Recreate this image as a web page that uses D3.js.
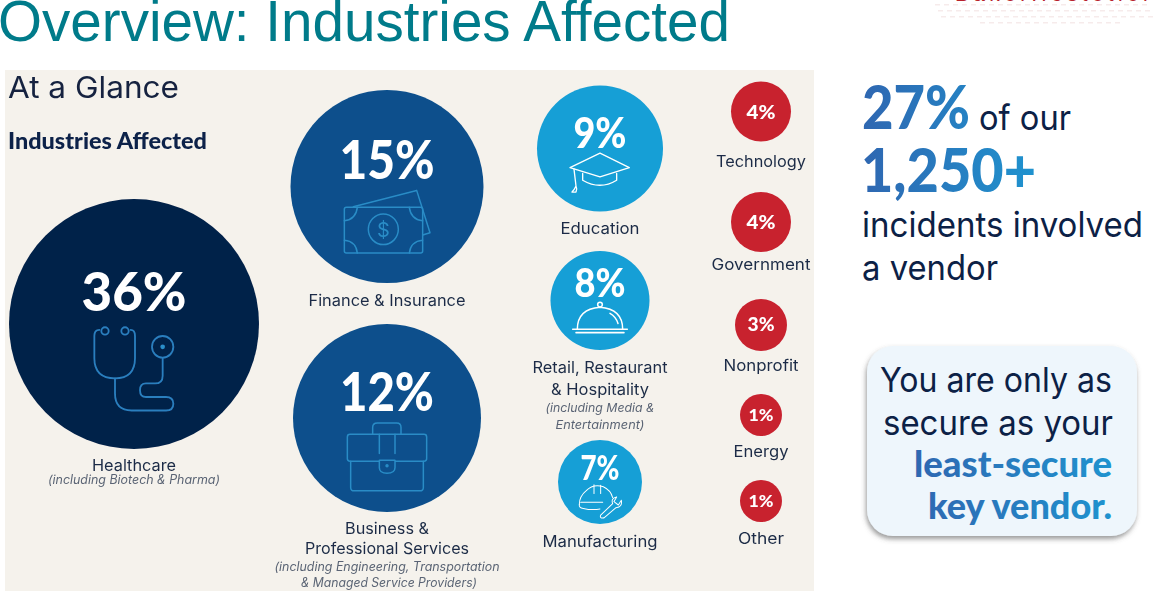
<!DOCTYPE html>
<html><head><meta charset="utf-8">
<script src="https://cdn.jsdelivr.net/npm/d3@7"></script>
<style>html,body{margin:0;padding:0;background:#fff;overflow:hidden}svg{display:block}text{font-family:Inter,"Open Sans",sans-serif}text.heavy{font-family:Lato,Inter,sans-serif;font-weight:900}</style>
</head><body><svg id="c" width="1168" height="591"></svg>
<script>
// data
const categories=["Healthcare","Finance & Insurance","Business & Professional Services","Education","Retail, Restaurant & Hospitality","Manufacturing","Technology","Government","Nonprofit","Energy","Other"];
const shares=[36,15,12,9,8,7,4,4,3,1,1];
const groups=["dark","mid","mid","light","light","light","red","red","red","red","red"];
// layout
const centerX=[134,387,387,600,600,600,761,761,761,761,761];
const centerY=[324,186.5,418,148.5,300.5,482,111.5,222,325,415,501];
const pctY=[292,160,392,133,283,468,112,222,325,415,501];
const pctSize=[54,54,54,42,40,34,19,19,18,17,17];
const pctWidth=[105,95,94,53,51,39,29,29,27,25,25];
const rDomain=[1,3,4,7,8,9,12,15,36], rRange=[21,26,30,42,49.5,63,94,96.5,125];
const palette={dark:"#032048",mid:"#0b4f8c",light:"#159fd6",red:"#c8202f"};
const labels=[
 ["Healthcare",134,471,15.5,84,0],["(including Biotech & Pharma)",134,484,12.5,172,1],
 ["Finance & Insurance",387,306,15.5,157,0],
 ["Business &",387,534,15.5,84,0],["Professional Services",387,554,15.5,164,0],
 ["(including Engineering, Transportation",387,571,12.5,225,1],["& Managed Service Providers)",389,587,12.5,176,1],
 ["Education",600,234,15.5,79,0],
 ["Retail, Restaurant",600,373,15.5,135,0],["& Hospitality",600,395,15.5,98,0],
 ["(including Media &",600,412,12,109,1],["Entertainment)",600,429,12,89,1],
 ["Manufacturing",600,547,15.5,115,0],
 ["Technology",761,167,15.5,90,0],["Government",761,270,15.5,99,0],["Nonprofit",761,371,15.5,75,0],
 ["Energy",761,457,15.5,55,0],["Other",761,544,15.5,46,0]];
const bigFigures=[["27%",862,129,108],["1,250+",861,192,175]];
const sideText=[["of our",979,130,92],["incidents involved",862,237,281],["a vendor",862,280,136]];
const calloutPlain=[["You are only as",880,392,232],["secure as your",883,435,230]];
const calloutBold=[["least-secure",914,477,198],["key vendor.",928,519,184]];

const svg=d3.select("#c");
const r=d3.scaleLinear().domain(rDomain).range(rRange);
const defs=svg.append("defs");
function grad(id,x1,x2){const g=defs.append("linearGradient").attr("id",id).attr("gradientUnits","userSpaceOnUse").attr("x1",x1).attr("x2",x2).attr("y1",0).attr("y2",0);
 g.append("stop").attr("offset",0).attr("stop-color","#2f67b1");g.append("stop").attr("offset",1).attr("stop-color","#1f93cf");}
grad("g1",862,1036);grad("g2",914,1112);
defs.append("filter").attr("id","sh").attr("x","-10%").attr("y","-10%").attr("width","120%").attr("height","125%")
 .html('<feDropShadow dx="-1" dy="3" stdDeviation="2.5" flood-color="#555" flood-opacity=".6"/>');
defs.append("filter").attr("id","soft").html('<feGaussianBlur stdDeviation="0.35"/>');

// slide header
svg.append("text").attr("x",-2).attr("y",41).attr("font-size",56.6).attr("fill","#007b8a").style("font-family","Liberation Sans").text("Overview: Industries Affected");
const brand=svg.append("g").attr("opacity",.22).attr("fill","#d8a8a8");
d3.range(935,1150,9).forEach((x,i)=>d3.range(4,30,6).forEach((y,j)=>{ if(y<28-Math.abs(x-1040)/12) brand.append("rect").attr("x",x+j*3).attr("y",y).attr("width",5).attr("height",1.5);}));
svg.append("text").attr("x",955).attr("y",1).attr("font-size",21).attr("fill","#b8222c").style("font-family","Liberation Sans").attr("textLength",195).text("BakerHostetler");

// panel
const panel=svg.append("g").attr("filter","url(#soft)");
panel.append("rect").attr("x",5).attr("y",70).attr("width",809).attr("height",521).attr("fill","#f5f2ec");
panel.append("text").attr("x",8).attr("y",98).attr("font-size",30).attr("fill","#14233f").attr("textLength",171).attr("lengthAdjust","spacingAndGlyphs").text("At a Glance");
panel.append("text").attr("class","heavy").attr("x",8).attr("y",149).attr("font-size",22).attr("fill","#0a2048").attr("textLength",199).attr("lengthAdjust","spacingAndGlyphs").text("Industries Affected");

panel.selectAll("circle.b").data(categories).join("circle").attr("class","b")
 .attr("cx",(d,i)=>centerX[i]).attr("cy",(d,i)=>centerY[i]).attr("r",(d,i)=>r(shares[i])).attr("fill",(d,i)=>palette[groups[i]]);
panel.selectAll("text.p").data(shares).join("text").attr("class","p heavy").attr("text-anchor","middle")
 .attr("x",(d,i)=>centerX[i]).attr("y",(d,i)=>pctY[i]+pctSize[i]*.36).attr("font-size",(d,i)=>pctSize[i]).attr("fill","#fff")
 .attr("textLength",(d,i)=>pctWidth[i]).attr("lengthAdjust","spacingAndGlyphs").text(d=>d+"%");
panel.selectAll("text.l").data(labels).join("text").attr("class","l").attr("text-anchor","middle")
 .attr("x",d=>d[1]).attr("y",d=>d[2]).attr("font-size",d=>d[3]).attr("fill",d=>d[5]?"#5a6474":"#1c2c46").attr("font-style",d=>d[5]?"italic":"normal")
 .attr("textLength",d=>d[4]).attr("lengthAdjust","spacingAndGlyphs").text(d=>d[0]);

// icons (drawn in zoomed crop space)
function icon(ox,oy,stroke,w){return panel.append("g").attr("transform",`translate(${ox},${oy}) scale(${1/3},${1.016/3})`).attr("fill","none").attr("stroke",stroke).attr("stroke-width",w).attr("stroke-linecap","round").attr("stroke-linejoin","round");}
const a=icon(0,60,"#2a7fbe",5.5);
a.append("path").attr("d","M298 797 Q283 797 283 815 V880 Q283 940 345 940 Q405 940 405 880 V815 Q405 797 392 797");
a.append("circle").attr("cx",315).attr("cy",800).attr("r",11);
a.append("circle").attr("cx",375).attr("cy",800).attr("r",11);
a.append("path").attr("d","M345 940 V985 Q345 1035 395 1035 H498 Q520 1035 520 1015 Q520 995 498 995 H438 Q420 995 420 975 Q420 955 438 955 H465 Q488 955 488 932 V880");
a.append("circle").attr("cx",488).attr("cy",847).attr("r",32);
a.append("circle").attr("cx",488).attr("cy",847).attr("r",7).attr("fill","#2a8fc9").attr("stroke","none");
const m=icon(0,60,"#2a8cc6",4.5);
m.append("rect").attr("x",1033).attr("y",435).attr("width",235).attr("height",135).attr("rx",6);
m.append("path").attr("d","M1060 433 L1250 385 L1290 510 L1268 517");
m.append("path").attr("d","M1033 475 Q1068 470 1072 435 M1228 435 Q1232 470 1268 475 M1033 532 Q1068 535 1072 570 M1228 570 Q1232 535 1268 532");
m.append("circle").attr("cx",1150).attr("cy",500).attr("r",45);
m.append("text").attr("x",1150).attr("y",522).attr("text-anchor","middle").attr("font-size",60).attr("fill","#2a8cc6").attr("stroke","none").text("$");
const b=icon(0,60,"#2a8cc6",4.5);
b.append("path").attr("d","M1118 1105 V1085 Q1118 1072 1132 1072 H1190 Q1203 1072 1203 1085 V1105");
b.append("rect").attr("x",1042).attr("y",1105).attr("width",238).attr("height",80).attr("rx",8);
b.append("path").attr("d","M1052 1185 V1262 Q1052 1272 1062 1272 H1260 Q1270 1272 1270 1262 V1185");
b.append("path").attr("d","M1138 1105 V1162 M1185 1105 V1162");
b.append("path").attr("d","M1138 1182 H1185 V1203 Q1185 1220 1161 1220 Q1138 1220 1138 1203 Z").attr("fill","#0b4f8c");
b.append("circle").attr("cx",1161).attr("cy",1198).attr("r",3).attr("fill","#2a8cc6");
const e=icon(500,60,"#fff",4);
e.append("path").attr("d","M210 318 L300 275 L388 318 L300 345 Z");
e.append("path").attr("d","M248 335 V355 Q300 385 350 355 V335");
e.append("path").attr("d","M222 322 L228 372 M228 372 Q222 385 216 390 L228 390 Q232 380 228 372");
const c=icon(500,60,"#fff",4.5);
c.append("path").attr("d","M232 795 Q232 735 300 730 Q368 735 368 795");
c.append("circle").attr("cx",300).attr("cy",722).attr("r",7);
c.append("path").attr("d","M218 795 H382 M228 805 H372");
c.append("path").attr("d","M330 748 Q348 758 354 778");
const h=icon(500,60,"#fff",3);
h.append("path").attr("d","M238 1312 Q238 1288 258 1272 Q280 1250 310 1260 Q332 1270 338 1292");
h.append("path").attr("d","M282 1254 V1280 M302 1256 V1280 M242 1306 H308 M238 1312 Q236 1322 250 1324 Q275 1330 300 1326");
h.append("path").attr("d","M302 1344 L338 1310 Q332 1294 350 1290 L342 1304 L355 1314 L364 1300 Q368 1320 348 1322 L312 1352 Q298 1354 302 1344 Z");

// right side
const side=svg.append("g");
side.selectAll("text.big").data(bigFigures).join("text").attr("class","big heavy").attr("x",d=>d[1]).attr("y",d=>d[2]).attr("font-size",60).attr("fill","url(#g1)")
 .attr("textLength",d=>d[3]).attr("lengthAdjust","spacingAndGlyphs").text(d=>d[0]);
side.selectAll("text.s").data(sideText).join("text").attr("class","s").attr("x",d=>d[1]).attr("y",d=>d[2]).attr("font-size",35).attr("fill","#0c2146")
 .attr("textLength",d=>d[3]).attr("lengthAdjust","spacingAndGlyphs").text(d=>d[0]);
side.append("rect").attr("x",867).attr("y",346).attr("width",270).attr("height",190).attr("rx",26).attr("fill","#eef6fc").attr("filter","url(#sh)");
side.selectAll("text.cp").data(calloutPlain).join("text").attr("class","cp").attr("x",d=>d[1]).attr("y",d=>d[2]).attr("font-size",34).attr("fill","#0c2146")
 .attr("textLength",d=>d[3]).attr("lengthAdjust","spacingAndGlyphs").text(d=>d[0]);
side.selectAll("text.cb").data(calloutBold).join("text").attr("class","cb heavy").attr("x",d=>d[1]).attr("y",d=>d[2]).attr("font-size",36).attr("fill","url(#g2)")
 .attr("textLength",d=>d[3]).attr("lengthAdjust","spacingAndGlyphs").text(d=>d[0]);
</script></body></html>
